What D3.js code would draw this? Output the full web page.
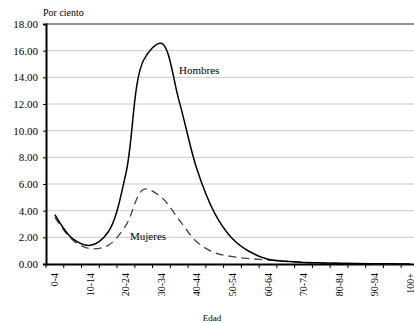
<!DOCTYPE html>
<html>
<head>
<meta charset="utf-8">
<script src="https://cdn.jsdelivr.net/npm/d3@7"></script>
<style>
  body { margin: 0; background: #fff; }
  svg text { font-family: "Liberation Serif", "Times New Roman", Times, serif; }
</style>
</head>
<body>
<svg id="chart"></svg>
<script>
const ageGroups = [
  "0-4", "5-9", "10-14", "15-19", "20-24", "25-29", "30-34", "35-39",
  "40-44", "45-49", "50-54", "55-59", "60-64", "65-69", "70-74", "75-79",
  "80-84", "85-89", "90-94", "95-99", "100+",
];
const shownLabels = ["0-4", "10-14", "20-24", "30-34", "40-44", "50-54",
  "60-64", "70-74", "80-84", "90-94", "100+"];

const hombres = [3.7, 1.9, 1.4, 2.4, 6.8, 15.3, 16.55, 12.2, 7.1, 3.8, 1.9,
  0.9, 0.35, 0.2, 0.12, 0.08, 0.05, 0.03, 0.02, 0.01, 0.0];
const mujeres = [3.5, 1.8, 1.15, 1.4, 2.9, 5.6, 5.0, 3.3, 1.65, 0.85, 0.55,
  0.4, 0.3, 0.2, 0.12, 0.08, 0.05, 0.03, 0.02, 0.01, 0.0];

const yTicks = [0, 2, 4, 6, 8, 10, 12, 14, 16, 18];

const W = 414, H = 323;
const margin = { top: 24, left: 46 };
const band = 17.76;
const width = band * ageGroups.length,
  height = 240;
const serif = '"Liberation Serif", "Times New Roman", Times, serif';

const svg = d3.select("#chart").attr("width", W).attr("height", H);
const g = svg.append("g").attr("transform", `translate(${margin.left},${margin.top})`);

const x = d3.scaleBand().domain(ageGroups).range([0, width]);
const y = d3.scaleLinear().domain([0, 18]).range([height, 0]);

// gridlines
g.append("g")
  .selectAll("line")
  .data(yTicks.filter((d) => d > 0))
  .join("line")
  .attr("x1", 0)
  .attr("x2", width)
  .attr("y1", (d) => y(d))
  .attr("y2", (d) => y(d))
  .attr("stroke", (d) => (d === 18 ? "#707070" : "#c8c8c8"))
  .attr("stroke-width", (d) => (d === 18 ? 1.5 : 1));

// eje Y
const yAxis = g.append("g")
  .call(d3.axisLeft(y).tickValues(yTicks).tickSize(3).tickPadding(5).tickFormat(d3.format(".2f")))
  .attr("font-family", serif);
yAxis.select(".domain").attr("stroke", "#000").attr("stroke-width", 2);
yAxis.selectAll(".tick line").attr("stroke", "#000");
yAxis.selectAll("text").attr("font-size", "11px").attr("fill", "#000");

// eje X
const xAxis = g.append("g")
  .attr("transform", `translate(0,${height})`)
  .call(d3.axisBottom(x).tickSize(0).tickFormat(""))
  .attr("font-family", serif);
xAxis.select(".domain").attr("stroke", "#000").attr("stroke-width", 2);
xAxis.selectAll(".tick").remove();

const xt = xAxis.append("g");
xt.selectAll("line")
  .data(d3.range(ageGroups.length + 1))
  .join("line")
  .attr("x1", (i) => i * x.step())
  .attr("x2", (i) => i * x.step())
  .attr("y1", 0)
  .attr("y2", 4)
  .attr("stroke", "#000");

xt.selectAll("text")
  .data(shownLabels)
  .join("text")
  .attr("transform", (d) => `translate(${x(d) + x.bandwidth() / 2 + 3.5},9) rotate(-90)`)
  .attr("text-anchor", "end")
  .attr("font-size", "10px")
  .attr("fill", "#000")
  .text((d) => d);

// líneas
const line = d3.line()
  .x((d, i) => x(ageGroups[i]) + x.bandwidth() / 2)
  .y((d) => y(d))
  .curve(d3.curveCatmullRom.alpha(0.5));

g.append("path")
  .datum(mujeres)
  .attr("fill", "none")
  .attr("stroke", "#444")
  .attr("stroke-width", 1.3)
  .attr("stroke-dasharray", "8,5")
  .attr("d", line);

g.append("path")
  .datum(hombres)
  .attr("fill", "none")
  .attr("stroke", "#000")
  .attr("stroke-width", 1.5)
  .attr("d", line);

// textos
const lab = svg.append("g").attr("font-family", serif).attr("fill", "#000");
lab.append("text").attr("x", 43).attr("y", 16).attr("font-size", "10px").text("Por ciento");
lab.append("text").attr("x", 179).attr("y", 74).attr("font-size", "11px").text("Hombres");
lab.append("text").attr("x", 130).attr("y", 240).attr("font-size", "11px").text("Mujeres");
lab.append("text").attr("x", 212).attr("y", 321).attr("font-size", "9px").attr("text-anchor", "middle").text("Edad");
</script>
</body>
</html>
